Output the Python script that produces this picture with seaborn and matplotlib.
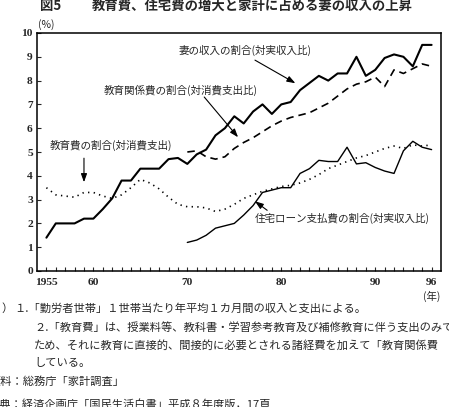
import numpy as np
import pandas as pd
import matplotlib
matplotlib.use("Agg")
import matplotlib.pyplot as plt
import seaborn as sns

# ---------------------------------------------------------------------------
# Data (%)
# ---------------------------------------------------------------------------
years_long = list(range(1955, 1997))
years_short = list(range(1970, 1997))

wife_income = [1.4, 2.0, 2.0, 2.0, 2.2, 2.2, 2.6, 3.05, 3.8, 3.8,
               4.3, 4.3, 4.3, 4.7, 4.75, 4.5, 4.9, 5.1, 5.7, 6.0,
               6.5, 6.2, 6.7, 7.0, 6.6, 7.0, 7.1, 7.6, 7.9, 8.2,
               8.0, 8.3, 8.3, 9.0, 8.2, 8.45, 8.95, 9.1, 9.0, 8.6,
               9.5, 9.5]
edu_related = [5.0, 5.05, 4.8, 4.7, 4.8, 5.15, 5.4, 5.6, 5.85, 6.1,
               6.3, 6.45, 6.55, 6.65, 6.85, 7.05, 7.35, 7.65, 7.85, 7.95,
               8.15, 7.75, 8.45, 8.3, 8.5, 8.7, 8.6]
edu_cost = [3.5, 3.2, 3.15, 3.1, 3.3, 3.3, 3.15, 3.05, 3.2, 3.5,
            3.85, 3.7, 3.45, 3.1, 2.8, 2.7, 2.7, 2.65, 2.5, 2.6,
            2.8, 3.05, 3.2, 3.35, 3.45, 3.55, 3.6, 3.7, 3.85, 4.05,
            4.3, 4.45, 4.6, 4.75, 4.85, 5.0, 5.15, 5.25, 5.15, 5.3,
            5.25, 5.3]
housing_loan = [1.2, 1.3, 1.5, 1.8, 1.9, 2.0, 2.35, 2.75, 3.3, 3.4,
                3.5, 3.5, 4.1, 4.3, 4.65, 4.6, 4.6, 5.2, 4.5, 4.55,
                4.35, 4.2, 4.1, 5.05, 5.45, 5.2, 5.1]

tick_years = [1955, 1960, 1970, 1980, 1990, 1996]
tick_labels = ["1955", "60", "70", "80", "90", "96"]

title_text = "教育費、住宅費の増大と家計に占める妻の収入の上昇"
notes = [
    "１.「勤労者世帯」１世帯当たり年平均１カ月間の収入と支出による。",
    "２.「教育費」は、授業料等、教科書・学習参考教育及び補修教育に伴う支出のみで",
    "ため、それに教育に直接的、間接的に必要とされる諸経費を加えて「教育関係費",
    "している。",
    "資料：総務庁「家計調査」",
    "出典：経済企画庁「国民生活白書」平成８年度版，17頁",
]

# ---------------------------------------------------------------------------
# Style
# ---------------------------------------------------------------------------
sns.set_style("white")
plt.rcParams["font.family"] = ["Noto Sans CJK JP", "DejaVu Sans"]
plt.rcParams["axes.unicode_minus"] = False

W, H = 449, 407
fig = plt.figure(figsize=(W / 100, H / 100), dpi=100)
ax = fig.add_axes([37 / W, 1 - 271 / H, (441 - 37) / W, (271 - 33) / H])


def px(x, y):
    return x / W, 1 - y / H


# ---------------------------------------------------------------------------
# Lines
# ---------------------------------------------------------------------------
sns.lineplot(x=years_long, y=wife_income, ax=ax, color="black", lw=1.5)
sns.lineplot(x=years_short, y=edu_related, ax=ax, color="black", lw=1.2,
             linestyle=(0, (4.5, 3)))
sns.lineplot(x=years_long, y=edu_cost, ax=ax, color="black", lw=1.2,
             linestyle=(0, (0.8, 2.6)))
sns.lineplot(x=years_short, y=housing_loan, ax=ax, color="black", lw=1.0)

ax.set_xlim(1954, 1997)
ax.set_ylim(0, 10)
ax.set_xlabel("")
ax.set_ylabel("")

ax.set_xticks(tick_years)
ax.set_xticklabels(tick_labels)
ax.set_xticks(years_long, minor=True)
ax.set_yticks(range(0, 11))

for s in ax.spines.values():
    s.set_color("black")
    s.set_linewidth(1.1)

ax.tick_params(axis="x", which="both", direction="in", length=3, width=0.8,
               pad=5, bottom=True)
ax.tick_params(axis="y", which="major", direction="in", length=3, width=0.8,
               pad=3, left=True)
for lab in ax.get_xticklabels() + ax.get_yticklabels():
    lab.set_fontfamily("Liberation Serif")
    lab.set_fontsize(8.2)
    lab.set_fontweight("bold")

# ---------------------------------------------------------------------------
# Annotations
# ---------------------------------------------------------------------------
ann_kw = dict(fontsize=7.6, ha="center", va="center")
arrow = dict(arrowstyle="-|>,head_length=0.5,head_width=0.18", color="black",
             lw=0.8, shrinkA=0, shrinkB=0)

ax.text(1976.1, 9.28, "妻の収入の割合(対実収入比)", **ann_kw)
ax.annotate("", xy=(1981.5, 7.89), xytext=(1977.2, 8.86), arrowprops=arrow)

ax.text(1969.3, 7.6, "教育関係費の割合(対消費支出比)", **ann_kw)
ax.annotate("", xy=(1975.4, 5.62), xytext=(1971.8, 7.31), arrowprops=arrow)

ax.text(1961.9, 5.28, "教育費の割合(対消費支出)", **ann_kw)
ax.annotate("", xy=(1959.0, 3.73), xytext=(1959.0, 4.74), arrowprops=arrow)

ax.text(1986.5, 2.21, "住宅ローン支払費の割合(対実収入比)", **ann_kw)
ax.annotate("", xy=(1977.2, 2.93), xytext=(1978.5, 2.55), arrowprops=arrow)

# ---------------------------------------------------------------------------
# Titles and notes
# ---------------------------------------------------------------------------
fig.text(*px(40, 6), "図5", fontsize=9.6, fontweight="bold", ha="left", va="center")
fig.text(*px(92, 6), title_text, fontsize=9.6, fontweight="bold", ha="left", va="center")
fig.text(*px(38, 25), "(%)", fontsize=7.5, ha="left", va="center")
fig.text(*px(432, 296), "(年)", fontsize=7.5, ha="center", va="center")

fig.text(*px(13, 309), "）", fontsize=8.1, ha="right", va="center")
note_pos = [(14, 309), (34, 327), (34, 345), (34, 363), (-11, 382), (-11, 404)]
for (x, y), t in zip(note_pos, notes):
    fig.text(*px(x, y), t, fontsize=8.1, ha="left", va="center")

fig.savefig("out.png", dpi=100)
plt.close(fig)
